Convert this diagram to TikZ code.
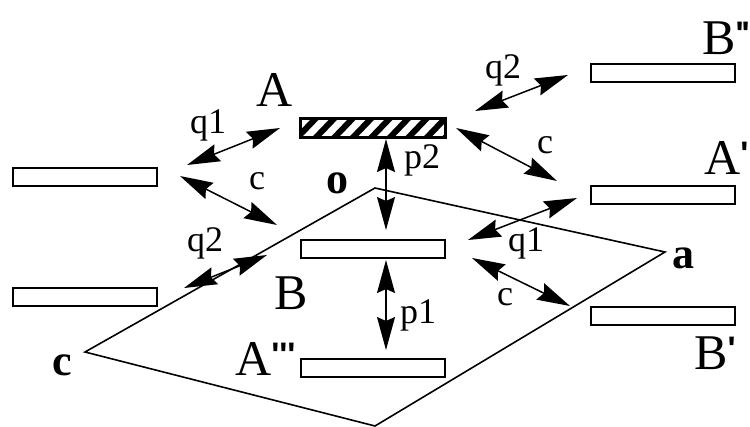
\documentclass[tikz,border=0pt]{standalone}
\usepackage{fontspec}
\setmainfont{Liberation Serif}
\newfontfamily\prmfont{Liberation Sans}
\usetikzlibrary{arrows.meta}
\newcommand{\prm}{\raisebox{9pt}{\fontsize{34}{34}\selectfont\prmfont\bfseries\symbol{39}}}
\tikzset{
  slab/.style={draw, line width=2pt, fill=white, minimum width=144pt, minimum height=18pt, inner sep=0pt, anchor=north west},
  dbl/.style={{Stealth[length=33pt, width=18pt, inset=4pt]}-{Stealth[length=33pt, width=18pt, inset=4pt]}, line width=1.5pt},
  big/.style={font=\fontsize{50}{50}\selectfont, inner sep=0pt},
  small/.style={font=\fontsize{36}{36}\selectfont, inner sep=0pt},
  vertex/.style={font=\fontsize{44}{44}\selectfont\bfseries, inner sep=0pt}
}

\begin{document}
\begin{tikzpicture}[x=1pt, y=-1pt]
  \useasboundingbox (0,0) rectangle (750,426);
  \clip (0,0) rectangle (750,426);
  % parallelogram
  \coordinate (o) at (375,188);
  \coordinate (a) at (665,252);
  \coordinate (d) at (375,426);
  \coordinate (c) at (85,352);
  \draw[line width=1.6pt] (o) -- (a) -- (d) -- (c) -- cycle;

  % slabs
  \node[slab] (slabA) at (300,118) {};
  \node[slab] (slabB) at (300,239) {};
  \node[slab] (slabAiii) at (300,358) {};
  \node[slab] (left1) at (12,167) {};
  \node[slab] (left2) at (12,287) {};
  \node[slab] (slabBii) at (590,63) {};
  \node[slab] (slabAi) at (590,185) {};
  \node[slab] (slabBi) at (590,306) {};
  % hatching of A
  \begin{scope}
    \clip (slabA.north west) rectangle (slabA.south east);
    \foreach \x in {0,...,8} {
      \draw[line width=6pt] (295+18.5*\x,140) -- (295+18.5*\x+24,115);
    }
  \end{scope}
  \draw[line width=2pt] (slabA.north west) rectangle (slabA.south east);

  % arrow ends
  \coordinate (q1a) at (187,165);
  \coordinate (q1b) at (280,128);
  \coordinate (c1a) at (180,176);
  \coordinate (c1b) at (277,225);
  \coordinate (q2a) at (184,288);
  \coordinate (q2b) at (267,255);
  \coordinate (p2a) at (386,139);
  \coordinate (p2b) at (386,230);
  \coordinate (p1a) at (386,260);
  \coordinate (p1b) at (386,350);
  \coordinate (q3a) at (475,111);
  \coordinate (q3b) at (568,75);
  \coordinate (c2a) at (456,128);
  \coordinate (c2b) at (557,181);
  \coordinate (q4a) at (468,240);
  \coordinate (q4b) at (577,198);
  \coordinate (c3a) at (472,258);
  \coordinate (c3b) at (570,306);
  \foreach \s/\e in {q1a/q1b, c1a/c1b, q2a/q2b, p2a/p2b, p1a/p1b, q3a/q3b, c2a/c2b, q4a/q4b, c3a/c3b} {
    \draw[dbl] (\s) -- (\e);
  }

  % labels
  \node[big] (lA) at (275,90) {A};
  \node[big] (lB) at (291,293) {B};
  \node[big, anchor=west] (lAiii) at (235,359) {A\prm\prm\prm};
  \node[big, anchor=west] (lBii) at (702,38) {B\prm\kern-2pt\prm};
  \node[big, anchor=west] (lAi) at (704,158) {A\prm};
  \node[big, anchor=west] (lBi) at (694,353) {B\prm};
  \node[vertex] (lo) at (337,183) {o};
  \node[vertex] (la) at (683,258) {a};
  \node[vertex] (lc) at (62,365) {c};
  \node[small] (tq1) at (208,125) {q1};
  \node[small] (tc1) at (257,181) {c};
  \node[small] (tq2) at (205,243) {q2};
  \node[small] (tp2) at (422,160) {p2};
  \node[small] (tp1) at (418,315) {p1};
  \node[small] (tq3) at (503,70) {q2};
  \node[small] (tc2) at (545,145) {c};
  \node[small] (tq4) at (526,243) {q1};
  \node[small] (tc3) at (505,297) {c};
\end{tikzpicture}
\end{document}
